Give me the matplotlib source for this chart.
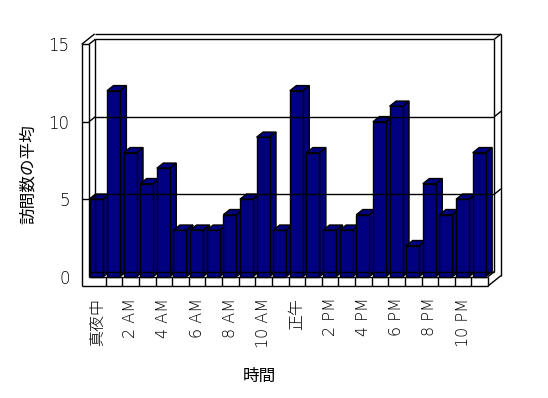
import matplotlib
matplotlib.use('Agg')
import matplotlib.pyplot as plt
from matplotlib.patches import Polygon, Rectangle

plt.rcParams['font.family'] = ['DejaVu Sans', 'Noto Sans CJK JP']
plt.rcParams['font.weight'] = 200

# average visits per hour (0..23)
visits = [5, 12, 8, 6, 7, 3, 3, 3, 4, 5, 9, 3, 12, 8, 3, 3, 4, 10, 11, 2, 6, 4, 5, 8]
hour_labels = ['真夜中', '2 AM', '4 AM', '6 AM', '8 AM', '10 AM',
               '正午', '2 PM', '4 PM', '6 PM', '8 PM', '10 PM']
y_ticks = [0, 5, 10, 15]
x_title = '時間'
y_title = '訪問数の平均'

navy = '#000080'
n = len(visits)
ymax = 15

fig = plt.figure(figsize=(5.48, 3.98), dpi=100)
ax = fig.add_axes([89/548, 1-276.7/398, 399/548, 232.4/398])
ax.set_xlim(0, n)
ax.set_ylim(0, ymax)
for s in ax.spines.values():
    s.set_visible(False)

# depth step (data units), wall thickness, floor thickness
ux, uy = 0.39, 0.335
L = -0.44
B = -0.6
lk = dict(color='black', lw=1, clip_on=False, solid_capstyle='butt')

def line(xs, ys):
    ax.plot(xs, ys, **lk)

# back wall inner face + outer thickness
line([ux, n+ux], [ymax+uy, ymax+uy])
line([n+ux, n+ux], [uy, ymax+uy])
line([ux, ux], [uy, ymax+uy])
line([L+2*ux, n+2*ux], [ymax+2*uy, ymax+2*uy])
line([n+2*ux, n+2*ux], [B+2*uy, ymax+2*uy])
line([n+ux, n+2*ux], [ymax+uy, ymax+2*uy])
line([L, L+2*ux], [ymax, ymax+2*uy])
line([0, ux], [ymax, ymax+uy])

# left wall front face
line([L, L], [B, ymax])
line([0, 0], [0, ymax])
line([L, 0], [ymax, ymax])

# floor
line([L, n], [B, B])
line([0, n], [0, 0])
line([n, n], [B, 0])
line([n, n+2*ux], [B, B+2*uy])
line([n, n+ux], [0, uy])
line([0, n+ux], [uy, uy])
for i in range(1, n):
    line([i, i], [B, 0])

# gridlines
for t in y_ticks[1:-1]:
    line([L, 0], [t, t])
    line([0, ux], [t, t+uy])
    line([ux, n+ux], [t+uy, t+uy])
    line([n+ux, n+2*ux], [t+uy, t+2*uy])

# bars
w = 0.78
for i, v in enumerate(visits):
    x0 = i + 0.08
    side = [(x0+w, 0), (x0+w+ux, uy), (x0+w+ux, v+uy), (x0+w, v)]
    top = [(x0, v), (x0+w, v), (x0+w+ux, v+uy), (x0+ux, v+uy)]
    ax.add_patch(Polygon(side, closed=True, fc=navy, ec='black', lw=1, clip_on=False))
    ax.add_patch(Polygon(top, closed=True, fc=navy, ec='black', lw=1, clip_on=False))
    ax.add_patch(Rectangle((x0, 0), w, v, fc=navy, ec='black', lw=1, clip_on=False))

ax.set_yticks(y_ticks)
ax.set_yticklabels([str(t) for t in y_ticks], fontsize=12)
ax.set_xticks([i + 0.5 for i in range(0, n, 2)])
ax.set_xticklabels(hour_labels, rotation=90, fontsize=11.5)
ax.tick_params(axis='y', length=0, pad=14)
ax.tick_params(axis='x', length=0, pad=15)

ax.set_xlabel(x_title, fontsize=12)
ax.xaxis.set_label_coords(0.426, -0.427)
ax.set_ylabel(y_title, fontsize=12)
ax.yaxis.set_label_coords(-0.153, 0.442)
ax.xaxis.label.set_va('center')
ax.yaxis.label.set_va('center')

fig.savefig('out.png', dpi=100)
